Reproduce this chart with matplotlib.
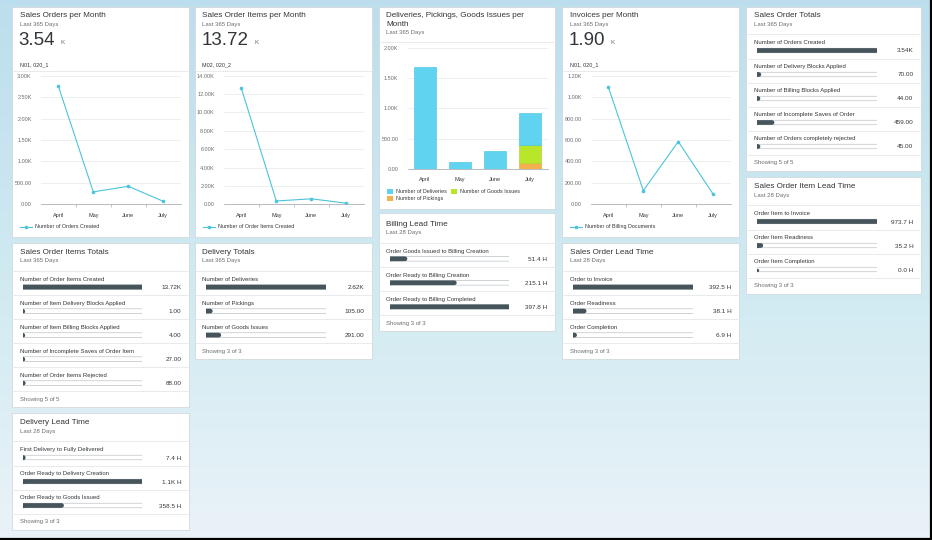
import numpy as np
import matplotlib.pyplot as plt
from matplotlib.patches import Rectangle
from matplotlib.ticker import FuncFormatter

plt.rcParams['font.family'] = ['Liberation Sans', 'DejaVu Sans']

W, H = 932, 540

# ---- data ----
months = ['April', 'May', 'June', 'July']
orders_per_month = [2760, 290, 420, 70]
items_per_month = [12640, 360, 600, 120]
invoices_per_month = [1095, 128, 585, 92]
deliveries = [1680, 120, 290, 530]
goods_issues = [0, 0, 0, 291]
pickings = [0, 0, 0, 105]

so_totals_labels = ['Number of Orders Created', 'Number of Delivery Blocks Applied',
                    'Number of Billing Blocks Applied', 'Number of Incomplete Saves of Order',
                    'Number of Orders completely rejected']
so_totals_values = [3540, 70, 44, 459, 45]

soi_totals_labels = ['Number of Order Items Created', 'Number of Item Delivery Blocks Applied',
                     'Number of Item Billing Blocks Applied', 'Number of Incomplete Saves of Order Item',
                     'Number of Order Items Rejected']
soi_totals_values = [13720, 1, 4, 27, 88]

delivery_totals_labels = ['Number of Deliveries', 'Number of Pickings', 'Number of Goods Issues']
delivery_totals_values = [2620, 105, 291]

billing_lt_labels = ['Order Goods Issued to Billing Creation', 'Order Ready to Billing Creation',
                     'Order Ready to Billing Completed']
billing_lt_values = [51.4, 215.1, 397.8]

so_lt_labels = ['Order to Invoice', 'Order Readiness', 'Order Completion']
so_lt_values = [392.5, 38.1, 6.9]

delivery_lt_labels = ['First Delivery to Fully Delivered', 'Order Ready to Delivery Creation',
                      'Order Ready to Goods Issued']
delivery_lt_values = [7.4, 1100, 358.5]

soi_lt_labels = ['Order Item to Invoice', 'Order Item Readiness', 'Order Item Completion']
soi_lt_values = [973.7, 35.2, 0.0]

TXT = '#32363a'
SUB = '#6a6d70'
LINE = '#4cc4da'
BAR = '#46545c'
SEP = '#e4e7e9'


def fmt_num(v, pos=None):
    if v >= 1000:
        return f'{v / 1000:.2f}K'
    return f'{v:.2f}'


def fmt_h(v):
    if v >= 1000:
        return f'{v / 1000:.1f}K H'
    return f'{v:.1f} H'


fig = plt.figure(figsize=(W / 100, H / 100), dpi=100)

# background
bg = fig.add_axes([0, 0, 1, 1])
bg.set_xlim(0, W)
bg.set_ylim(H, 0)
bg.axis('off')
t = np.linspace(0, 1, 300)[:, None]
top_c = np.array([0.74, 0.87, 0.93])
mid_c = np.array([0.83, 0.925, 0.95])
bot_c = np.array([0.92, 0.95, 0.975])
grad = np.where(t < 0.6, top_c + (mid_c - top_c) * (t / 0.6), mid_c + (bot_c - mid_c) * ((t - 0.6) / 0.4))
bg.imshow(grad[:, None, :].repeat(2, axis=1), extent=(0, W, H, 0), aspect='auto', zorder=0)
bg.plot([W - 1, W - 1], [0, H], color='black', lw=1.6, zorder=5)
bg.plot([0, W], [H - 1, H - 1], color='black', lw=1.6, zorder=5)


def px_axes(x0, y0, x1, y1):
    return fig.add_axes([x0 / W, 1 - y1 / H, (x1 - x0) / W, (y1 - y0) / H])


def card(x0, y0, x1, y1):
    bg.add_patch(Rectangle((x0, y0), x1 - x0, y1 - y0, facecolor='white',
                           edgecolor='#d3d9dd', lw=0.6, zorder=1))


def sep(x0, x1, y):
    bg.plot([x0, x1], [y, y], color=SEP, lw=0.6, zorder=2)


def header(x0, title_y, title, sub='Last 365 Days'):
    bg.text(x0 + 7.5, title_y, title, fontsize=5.9, color=TXT, va='center', zorder=3)
    bg.text(x0 + 7.5, title_y + 8.5, sub, fontsize=4.3, color=SUB, va='center', zorder=3)


def list_card(x0, x1, top, title_y, title, sub, labels, values, fmt):
    n = len(labels)
    label0 = title_y + 27
    bottom = label0 + n * 24 + 8
    card(x0, top, x1, bottom)
    header(x0, title_y, title, sub)
    sep(x0, x1, title_y + 18.5)
    rows = [label0 + 24 * i + 7.8 for i in range(n)]
    ax = px_axes(x0 + 10.5, top, x0 + 130.5, bottom)
    ax.set_facecolor('none')
    ax.axis('off')
    vmax = max(values)
    ax.set_xlim(0, vmax)
    ax.set_ylim(bottom, top)
    for i, (lab, v) in enumerate(zip(labels, values)):
        y = rows[i]
        bg.text(x0 + 7.5, label0 + 24 * i, lab, fontsize=4.3, color=TXT, va='center', zorder=3)
        ax.plot([0, vmax], [y, y], color='#aeb6bb', lw=3.7, solid_capstyle='round', snap=False)
        ax.plot([0, vmax], [y, y], color='white', lw=2.9, solid_capstyle='round', snap=False)
        ax.plot([0, v], [y, y], color=BAR, lw=3.4, solid_capstyle='round', snap=False)
        ax.plot([0], [y], 'o', color=BAR, ms=2.4, mew=0)
        bg.text(x1 - 7.5, y + 0.5, fmt(v), fontsize=4.6, color=TXT, ha='right', va='center', zorder=3)
        sep(x0, x1, label0 + 24 * i + 16)
    bg.text(x0 + 7.5, label0 + 24 * n, f'Showing {n} of {n}', fontsize=4.3, color=SUB,
            va='center', zorder=3)


def style_chart(ax, ymax, step, minor=True):
    ax.set_facecolor('none')
    for s in ['left', 'right', 'top']:
        ax.spines[s].set_visible(False)
    ax.spines['bottom'].set_color('#aab1b6')
    ax.spines['bottom'].set_linewidth(0.6)
    ax.set_xlim(-0.5, 3.5)
    ax.set_ylim(0, ymax)
    ax.set_yticks(np.arange(0, ymax + 1, step))
    ax.yaxis.set_major_formatter(FuncFormatter(fmt_num))
    ax.yaxis.grid(True, color='#e6e9eb', lw=0.5)
    ax.set_axisbelow(True)
    ax.set_xticks(range(4))
    ax.set_xticklabels(months)
    ax.tick_params(axis='y', left=False, labelsize=4.0, labelcolor=SUB, pad=3)
    ax.tick_params(axis='x', bottom=False, labelsize=4.0, labelcolor=TXT, pad=2.5)
    if minor:
        ax.set_xticks([0.5, 1.5, 2.5], minor=True)
        ax.tick_params(axis='x', which='minor', length=2.5, width=0.5, color='#aab1b6')


def line_card(x0, x1, title, big, code, values, ymax, step, legend):
    card(x0, 7, x1, 237)
    header(x0, 15.7, title)
    num = bg.text(x0 + 6.5, 40.5, big, fontsize=13.5, color=TXT, va='center', zorder=3)
    bg.annotate('K', xy=(1, 0.22), xycoords=num, xytext=(4, 0), textcoords='offset points',
                fontsize=4.6, color=SUB, va='bottom', zorder=3)
    bg.text(x0 + 7.5, 64.3, code, fontsize=3.9, color=TXT, va='center', zorder=3)
    sep(x0, x1, 71)
    ax = px_axes(x0 + 28.8, 75.7, x0 + 168.8, 204.3)
    style_chart(ax, ymax, step)
    ax.plot(range(4), values, color=LINE, lw=0.8, marker='o', ms=1.6)
    bg.plot([x0 + 8, x0 + 20], [226.7, 226.7], color=LINE, lw=0.8, zorder=3)
    bg.plot([x0 + 14], [226.7], 'o', color=LINE, ms=1.6, zorder=3)
    bg.text(x0 + 23, 226.7, legend, fontsize=3.9, color=TXT, va='center', zorder=3)


line_card(12, 189, 'Sales Orders per Month', '3.54', 'N01, 020_1',
          orders_per_month, 3000, 500, 'Number of Orders Created')
line_card(195, 372, 'Sales Order Items per Month', '13.72', 'M02, 020_2',
          items_per_month, 14000, 2000, 'Number of Order Items Created')
line_card(562, 739, 'Invoices per Month', '1.90', 'N01, 020_1',
          invoices_per_month, 1200, 200, 'Number of Billing Documents')

# stacked bar card
card(379, 7, 555, 209)
bg.text(386.5, 15.7, 'Deliveries, Pickings, Goods Issues per', fontsize=5.9, color=TXT,
        va='center', zorder=3)
bg.text(386.5, 24, 'Month', fontsize=5.9, color=TXT, va='center', zorder=3)
bg.text(386.5, 32.5, 'Last 365 Days', fontsize=4.3, color=SUB, va='center', zorder=3)
sep(379, 555, 41.7)
ax3 = px_axes(407.5, 47.7, 547.5, 169)
style_chart(ax3, 2000, 500, minor=False)
x = np.arange(4)
c_del, c_gi, c_pk = '#5fd3ef', '#b8e62a', '#f4b04c'
ax3.bar(x, pickings, width=0.63, color=c_pk, edgecolor='#e9a23e', lw=0.4)
ax3.bar(x, goods_issues, width=0.63, bottom=pickings, color=c_gi, edgecolor='#a6d41e', lw=0.4)
ax3.bar(x, deliveries, width=0.63, bottom=np.add(pickings, goods_issues), color=c_del,
        edgecolor='#3fc0e0', lw=0.4)
for (lx, ly, c, lab) in [(387, 191.7, c_del, 'Number of Deliveries'),
                         (451, 191.7, c_gi, 'Number of Goods Issues'),
                         (387, 198.7, c_pk, 'Number of Pickings')]:
    bg.add_patch(Rectangle((lx, ly - 2.5), 5.5, 5, facecolor=c, edgecolor='none', zorder=3))
    bg.text(lx + 8.5, ly, lab, fontsize=3.9, color=TXT, va='center', zorder=3)

# list cards
list_card(746, 921, 7, 15.7, 'Sales Order Totals', 'Last 365 Days',
          so_totals_labels, so_totals_values, fmt_num)
list_card(746, 921, 177, 186.7, 'Sales Order Item Lead Time', 'Last 28 Days',
          soi_lt_labels, soi_lt_values, fmt_h)
list_card(12, 189, 243, 252.3, 'Sales Order Items Totals', 'Last 365 Days',
          soi_totals_labels, soi_totals_values, fmt_num)
list_card(195, 372, 243, 252.3, 'Delivery Totals', 'Last 365 Days',
          delivery_totals_labels, delivery_totals_values, fmt_num)
list_card(379, 555, 213, 224, 'Billing Lead Time', 'Last 28 Days',
          billing_lt_labels, billing_lt_values, fmt_h)
list_card(562, 739, 243, 252.3, 'Sales Order Lead Time', 'Last 28 Days',
          so_lt_labels, so_lt_values, fmt_h)
list_card(12, 189, 413, 422.7, 'Delivery Lead Time', 'Last 28 Days',
          delivery_lt_labels, delivery_lt_values, fmt_h)

fig.savefig('out.png', dpi=100)
